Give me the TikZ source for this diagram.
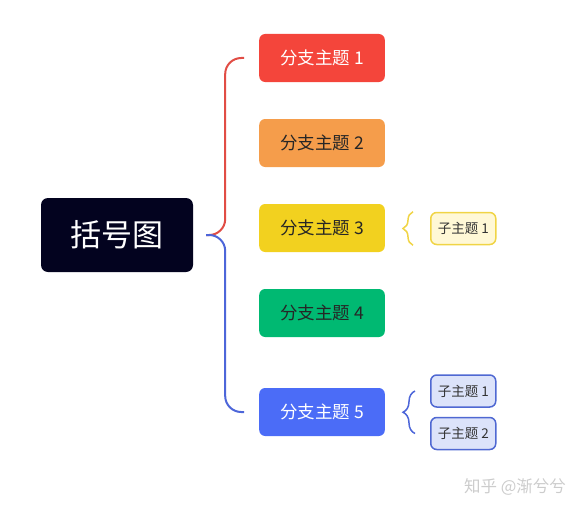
\documentclass[tikz,border=0pt]{standalone}
\usepackage{fontspec}
\newfontfamily\cjk{Noto Sans CJK SC}
\usetikzlibrary{decorations.pathreplacing}
\definecolor{rootc}{HTML}{03031F}
\definecolor{redc}{HTML}{F4453B}
\definecolor{orangec}{HTML}{F59D4B}
\definecolor{yellowc}{HTML}{F2D11F}
\definecolor{greenc}{HTML}{00B972}
\definecolor{bluec}{HTML}{4B6CF7}
\definecolor{redline}{HTML}{E14D45}
\definecolor{blueline}{HTML}{4D66D9}
\definecolor{subyfill}{HTML}{FFF8D6}
\definecolor{subyline}{HTML}{F0D445}
\definecolor{subbfill}{HTML}{DCE3FA}
\definecolor{subbline}{HTML}{4F68D2}
\begin{document}
\begin{tikzpicture}[x=1pt, y=-1pt,
    branch/.style={anchor=west, rounded corners=6pt, minimum height=48pt, inner xsep=21pt,
        font=\cjk\fontsize{17.5}{17.5}\selectfont},
    subtopic/.style={anchor=west, draw, line width=1.5pt, rounded corners=6pt, minimum height=32pt,
        inner xsep=7pt, text=black!80, font=\cjk\fontsize{13.5}{13.5}\selectfont},
    bracket/.style={line width=2pt, rounded corners=16pt, shorten <=13pt, shorten >=15pt},
    curly/.style={line width=1.5pt, decorate, decoration={brace, amplitude=#1}}]
    \useasboundingbox (0, 0) rectangle (586, 511);
    \node[fill=rootc, text=white, rounded corners=7pt, minimum width=152pt, minimum height=74pt,
        font=\cjk\fontsize{31}{31}\selectfont] (root) at (117, 235) {括号图};
    \foreach \n/\y/\c/\t in {1/58/redc/white, 2/143/orangec/black!85, 3/228/yellowc/black!85,
                             4/313/greenc/black!85, 5/412/bluec/white} {
        \node[branch, fill=\c, text=\t] (b\n) at (259, \y) {分支主题 \n};
    }
    \draw[bracket, redline] (root.east) -- ++(32, 0) |- (b1.west);
    \draw[bracket, blueline] (root.east) -- ++(32, 0) |- (b5.west);
    % children
    \node[subtopic, draw=subyline, fill=subyfill] (c31) at (430, 228.5) {子主题 1};
    \node[subtopic, draw=subbline, fill=subbfill] (c51) at (430, 391) {子主题 1};
    \node[subtopic, draw=subbline, fill=subbfill] (c52) at (430, 433.5) {子主题 2};
    \draw[curly=10pt, subyline] ([xshift=-17pt]c31.south west) -- ([xshift=-17pt]c31.north west);
    \draw[curly=12pt, blueline] ([xshift=-15pt]c52.west) -- ([xshift=-15pt]c51.west);
    \node[text=black!20, font=\cjk\fontsize{16.5}{16.5}\selectfont] (mark) at (515, 487) {知乎 @渐兮兮};
\end{tikzpicture}
\end{document}
